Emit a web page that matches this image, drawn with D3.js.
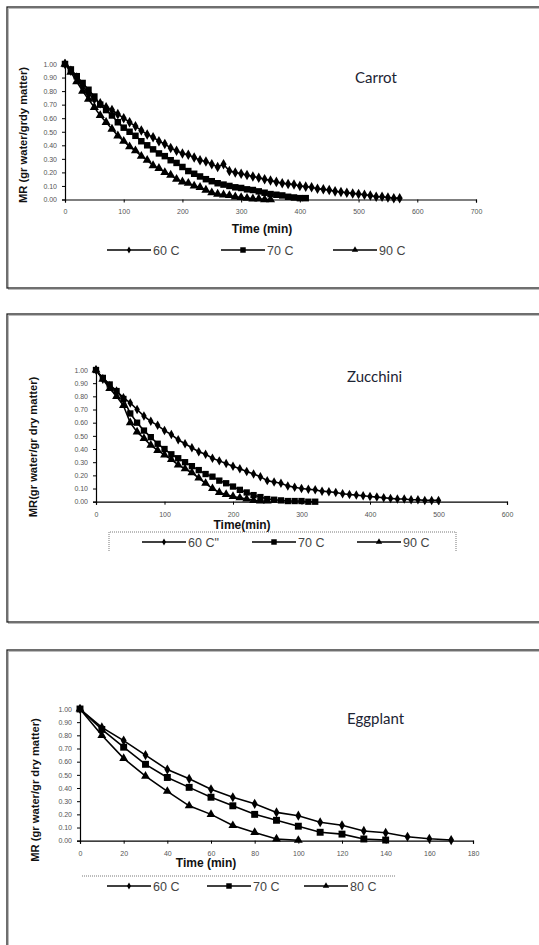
<!DOCTYPE html>
<html><head><meta charset="utf-8">
<script src="https://cdn.jsdelivr.net/npm/d3@7"></script>
<style>html,body{margin:0;padding:0;background:#fff;overflow:hidden}</style>
</head><body>
<svg id="c" width="539" height="945"></svg>
<script>
// ---------- DATA ----------
const seriesNames = ["60 C", "70 C", "80 C"];
// Carrot (10-min steps)
const carrotTimeStep = 10;
const carrotLegend = ["60 C", "70 C", "90 C"];
const carrot60 = [1.00,0.95,0.90,0.84,0.78,0.74,0.71,0.68,0.66,0.63,0.60,0.57,0.54,0.51,0.48,0.46,0.43,0.41,0.38,0.36,0.34,0.33,0.31,0.29,0.28,0.26,0.24,0.26,0.21,0.20,0.19,0.18,0.17,0.16,0.15,0.14,0.13,0.12,0.115,0.11,0.10,0.095,0.09,0.08,0.075,0.07,0.06,0.055,0.05,0.045,0.04,0.035,0.03,0.02,0.02,0.015,0.01,0.01];
const carrot70 = [1.00,0.96,0.91,0.86,0.81,0.76,0.70,0.66,0.62,0.57,0.53,0.50,0.47,0.43,0.40,0.37,0.34,0.32,0.29,0.27,0.24,0.21,0.19,0.17,0.15,0.135,0.12,0.11,0.10,0.09,0.085,0.075,0.07,0.06,0.05,0.04,0.035,0.03,0.02,0.015,0.01,0.01];
const carrot80 = [1.00,0.94,0.87,0.80,0.74,0.68,0.62,0.57,0.52,0.47,0.43,0.39,0.36,0.32,0.29,0.25,0.23,0.20,0.18,0.15,0.13,0.12,0.10,0.09,0.07,0.05,0.04,0.035,0.03,0.02,0.015,0.01,0.005,0.005,0.0,0.0];
const carrotXTicks = [0,100,200,300,400,500,600,700];
// Zucchini (10-min steps)
const zucchiniTimeStep = 10;
const zucchiniLegend = ["60 C\"", "70 C", "90 C"];
const zucchini60 = [1.00,0.93,0.88,0.84,0.79,0.75,0.70,0.65,0.61,0.58,0.54,0.51,0.47,0.44,0.41,0.38,0.36,0.33,0.31,0.29,0.27,0.25,0.23,0.21,0.19,0.16,0.15,0.14,0.12,0.11,0.10,0.095,0.09,0.08,0.075,0.07,0.06,0.055,0.05,0.045,0.04,0.035,0.03,0.025,0.02,0.02,0.015,0.015,0.01,0.01,0.01];
const zucchini70 = [1.00,0.94,0.89,0.84,0.78,0.67,0.60,0.54,0.49,0.44,0.40,0.36,0.33,0.30,0.27,0.24,0.21,0.19,0.16,0.14,0.115,0.09,0.07,0.05,0.035,0.02,0.015,0.01,0.005,0.005,0.005,0.0,0.0];
const zucchini80 = [1.00,0.93,0.86,0.80,0.73,0.60,0.53,0.48,0.43,0.39,0.355,0.32,0.28,0.25,0.22,0.18,0.14,0.10,0.07,0.055,0.04,0.03,0.02,0.01,0.005,0.005];
const zucchiniXTicks = [0,100,200,300,400,500,600];
// Eggplant (10-min steps)
const eggplantTimeStep = 10;
const eggplantLegend = ["60 C", "70 C", "80 C"];
const eggplant60 = [1.00,0.86,0.76,0.65,0.54,0.47,0.39,0.33,0.28,0.215,0.19,0.14,0.117,0.074,0.06,0.03,0.015,0.005];
const eggplant70 = [1.00,0.845,0.71,0.58,0.48,0.405,0.33,0.265,0.20,0.155,0.11,0.064,0.05,0.013,0.005];
const eggplant80 = [1.00,0.80,0.625,0.49,0.375,0.265,0.20,0.115,0.063,0.013,0.003];
const eggplantXTicks = [0,20,40,60,80,100,120,140,160,180];
const yTicks = [0,0.1,0.2,0.3,0.4,0.5,0.6,0.7,0.8,0.9,1.0];

// ---------- DRAW ----------
const svg = d3.select("#c");
const symbols = [d3.symbolDiamond, d3.symbolSquare, d3.symbolTriangle];

function toPoints(arr, step){ return arr.map((v,i)=>({t:i*step, v:v})); }

function panel(cfg){
  // frame
  svg.append("rect").attr("x",cfg.box[0]+1.5).attr("y",cfg.box[1]+1.5)
    .attr("width",cfg.box[2]-cfg.box[0]).attr("height",cfg.box[3]-cfg.box[1])
    .attr("fill","none").attr("stroke","#bbb").attr("stroke-width",1);
  svg.append("rect").attr("x",cfg.box[0]).attr("y",cfg.box[1])
    .attr("width",cfg.box[2]-cfg.box[0]).attr("height",cfg.box[3]-cfg.box[1])
    .attr("fill","none").attr("stroke","#222").attr("stroke-width",1.3);

  const x = d3.scaleLinear().domain(cfg.xDomain).range([cfg.plot[0], cfg.plot[2]]);
  const y = d3.scaleLinear().domain([0,1]).range([cfg.plot[3], cfg.plot[1]]);
  const g = svg.append("g");

  const xa = g.append("g").attr("transform",`translate(0,${cfg.plot[3]})`)
    .call(d3.axisBottom(x).tickValues(cfg.xTicks).tickSize(3).tickPadding(7).tickFormat(d3.format("d")));
  const ya = g.append("g").attr("transform",`translate(${cfg.plot[0]},0)`)
    .call(d3.axisLeft(y).tickValues(yTicks).tickSize(3).tickPadding(5).tickFormat(d3.format(".2f")));
  [xa,ya].forEach(a=>{
    a.select(".domain").attr("stroke","#000").attr("stroke-width",1.2);
    a.selectAll(".tick line").attr("stroke","#000");
    a.selectAll("text").attr("font-family","Liberation Sans, Arial").attr("font-size",7).attr("fill","#555");
  });

  const line = d3.line().x(d=>x(d.t)).y(d=>y(d.v));
  cfg.series.forEach((s,i)=>{
    const pts = toPoints(s, cfg.step);
    g.append("path").attr("d",line(pts)).attr("fill","none").attr("stroke","#000").attr("stroke-width",1.6);
    g.selectAll(null).data(pts).enter().append("path")
      .attr("transform",d=>`translate(${x(d.t)},${y(d.v)})`)
      .attr("d",d3.symbol(symbols[i], cfg.symSize[i]))
      .attr("fill","#000");
  });

  // name
  svg.append("text").attr("x",cfg.name[1]).attr("y",cfg.name[2]).text(cfg.name[0])
    .attr("font-family","Lato, Open Sans, sans-serif").attr("font-size",15).attr("fill","#1c2433");
  // axis titles
  svg.append("text").attr("x",cfg.xTitle[1]).attr("y",cfg.xTitle[2]).attr("text-anchor","middle")
    .text(cfg.xTitle[0]).attr("font-family","Liberation Sans, Arial").attr("font-weight","bold")
    .attr("font-size",12).attr("fill","#111");
  svg.append("text").attr("transform",`translate(${cfg.yTitle[1]},${cfg.yTitle[2]}) rotate(-90)`)
    .attr("text-anchor","middle").text(cfg.yTitle[0]).attr("font-family","Liberation Sans, Arial")
    .attr("font-weight","bold").attr("font-size",11.2).attr("fill","#111");

  // legend
  cfg.legend.forEach((lbl,i)=>{
    const lx = cfg.legendX[i], ly = cfg.legendY;
    svg.append("line").attr("x1",lx).attr("x2",lx+44).attr("y1",ly).attr("y2",ly)
      .attr("stroke","#000").attr("stroke-width",1.6);
    svg.append("path").attr("transform",`translate(${lx+22},${ly})`)
      .attr("d",d3.symbol(symbols[i], cfg.legSym[i])).attr("fill","#000");
    svg.append("text").attr("x",lx+46).attr("y",ly+4.5).text(lbl)
      .attr("font-family","Liberation Sans, Arial").attr("font-size",12.5).attr("fill","#444");
  });
}

panel({
  box:[7,7,560,288], plot:[65,64,476,199.5], xDomain:[0,700], xTicks:carrotXTicks,
  step:carrotTimeStep, series:[carrot60,carrot70,carrot80], symSize:[32,42,36],
  name:["Carrot",355,83], xTitle:["Time (min)",262,233], yTitle:["MR (gr water/grdy matter)",27,135],
  legend:carrotLegend, legendX:[107,221,333], legendY:250, legSym:[14,30,18]
});
panel({
  box:[7,314,560,622], plot:[96,370,507,501.7], xDomain:[0,600], xTicks:zucchiniXTicks,
  step:zucchiniTimeStep, series:[zucchini60,zucchini70,zucchini80], symSize:[26,40,34],
  name:["Zucchini",347,382], xTitle:["Time(min)",242,529], yTitle:["MR(gr water/gr dry matter)",37,447],
  legend:zucchiniLegend, legendX:[142,252,357], legendY:542, legSym:[14,30,18]
});
panel({
  box:[7,650,560,960], plot:[80,709,473,840.7], xDomain:[0,180], xTicks:eggplantXTicks,
  step:eggplantTimeStep, series:[eggplant60,eggplant70,eggplant80], symSize:[30,48,34],
  name:["Eggplant",347,724], xTitle:["Time (min)",206,867], yTitle:["MR (gr water/gr dry matter)",39,790],
  legend:eggplantLegend, legendX:[107,207,304], legendY:886, legSym:[14,30,18]
});

// dotted legend frames
svg.append("path").attr("d","M109,551 L109,532 L456,532 L456,551")
  .attr("fill","none").attr("stroke","#555").attr("stroke-width",0.8).attr("stroke-dasharray","1,1");
svg.append("line").attr("x1",82).attr("x2",396).attr("y1",876).attr("y2",876)
  .attr("stroke","#555").attr("stroke-width",0.8).attr("stroke-dasharray","1,1");
</script>
</body></html>
